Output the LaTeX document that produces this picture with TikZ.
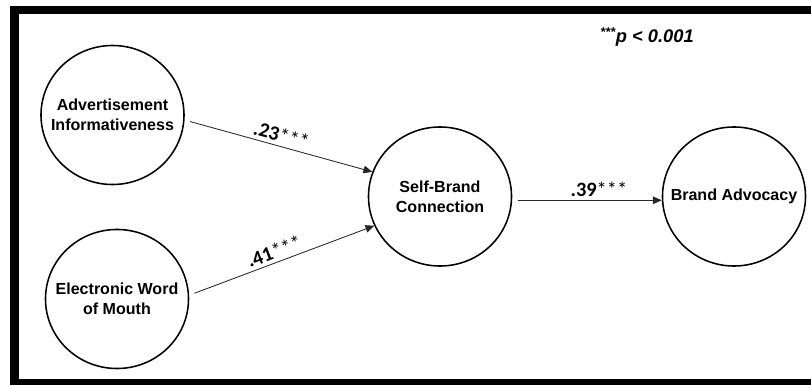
\documentclass[tikz,border=0pt]{standalone}
\usepackage{fontspec}
\setmainfont{Liberation Sans}
\newfontfamily\lblfont{Carlito}
\usepackage{tikz}
\usetikzlibrary{shapes.geometric,arrows.meta,positioning}

\begin{document}
\begin{tikzpicture}[x=0.025cm, y=-0.025cm,
  construct/.style = {draw, shape = ellipse, line width = 1.1pt, inner sep = 0pt,
    minimum width = 3.575cm, minimum height = 3.475cm},
  cname/.style = {align = center, inner sep = 0pt,
    font = \fontsize{11.4}{14.2}\selectfont\bfseries},
  path/.style = {draw = black!85, line width = 0.6pt,
    -{Triangle[length = 0.22cm, width = 0.19cm]}},
  coef/.style = {above, sloped, inner sep = 2.5pt, font = \fontsize{14.5}{16}\selectfont\lblfont}]
\useasboundingbox (0,0) rectangle (811,385);
\draw[line width = 0.2cm] (14.5,10.5) rectangle (830,383);

\node[construct, label = {[cname]center:Advertisement\\Informativeness}] (adv) at (112.5,115) {};
\node[construct, label = {[cname]center:Electronic Word\\of Mouth}] (ewom) at (117,299) {};
\node[construct, label = {[cname]center:Self-Brand\\Connection}] (sbc) at (440,196.5) {};
\node[construct, label = {[cname]center:Brand Advocacy}] (ba) at (734,196.5) {};

\node[font = \fontsize{13}{15}\selectfont\bfseries\itshape] (note) at (647,37)
  {\textsuperscript{***}p < 0.001};

\draw[path, shorten < = 4pt] (adv.-4) -- (sbc.160)
  node[coef, pos = 0.5] {\textbf{.23}***};
\draw[path, shorten < = 4pt] (ewom.3) -- (sbc.204)
  node[coef, pos = 0.48] {\textbf{.41}***};
\draw[path, shorten < = 4pt] (sbc.-3) -- (sbc.-3 -| ba.west)
  node[coef, pos = 0.58] {\textbf{.39}***};
\end{tikzpicture}
\end{document}
